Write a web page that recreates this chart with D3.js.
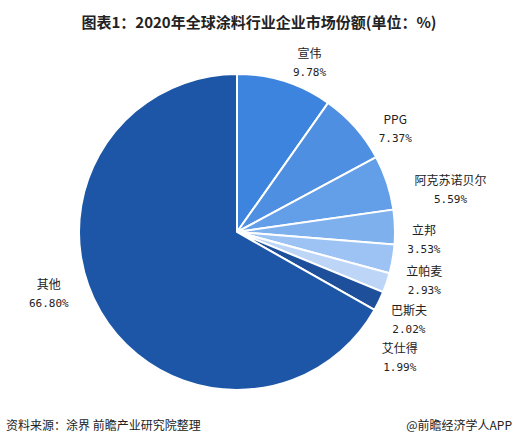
<!DOCTYPE html>
<html><head><meta charset="utf-8">
<script src="https://cdn.jsdelivr.net/npm/d3@7"></script>
<style>body{margin:0;background:#fff}text{font-family:"Noto Sans CJK SC","Noto Sans",sans-serif}</style>
</head><body><svg id="c" width="518" height="445"></svg>
<script>
const names = ["宣伟","PPG","阿克苏诺贝尔","立邦","立帕麦","巴斯夫","艾仕得","其他"];
const values = [9.78,7.37,5.59,3.53,2.93,2.02,1.99,66.80];
const colors = ["#3d84de","#4e8fe2","#639ee8","#7fb0ee","#9cc3f3","#bdd6f7","#1d4f9a","#1d56a6"];

const svg = d3.select("#c");
const cx = 237, cy = 232, r = 158;

svg.append("text").attr("x", 259).attr("y", 28).attr("text-anchor", "middle")
  .attr("font-size", 15).attr("font-weight", "bold").attr("fill", "#222")
  .text("图表1：2020年全球涂料行业企业市场份额(单位：%)");

const pie = d3.pie().sort(null).value(d => d)(values);
const arc = d3.arc().innerRadius(0).outerRadius(r);
const g = svg.append("g").attr("transform", `translate(${cx},${cy})`);
g.selectAll("path").data(pie).join("path")
  .attr("d", arc).attr("fill", (d, i) => colors[i])
  .attr("stroke", "#fff").attr("stroke-width", 2);

// label offsets per slice (dx, dy relative to polar position)
const adj = [[15,11],[16,22],[33,16],[-3,13],[0,16],[-8,26],[-8,42],[-24,-35]];
const lr = 190;
pie.forEach((d, i) => {
  const a = (d.startAngle + d.endAngle) / 2;
  let x = cx + Math.sin(a) * lr + adj[i][0], y = cy - Math.cos(a) * lr + adj[i][1];
  const t = svg.append("text").attr("text-anchor", "middle").attr("font-size", 12).attr("fill", "#222");
  t.append("tspan").attr("x", x).attr("y", y - 4).text(names[i]);
  t.append("tspan").attr("x", x).attr("y", y + 14).attr("font-family", "DejaVu Sans Mono, monospace").attr("font-size", 11)
    .text(values[i].toFixed(2) + "%");
});

svg.append("text").attr("x", 6).attr("y", 430).attr("font-size", 12).attr("fill", "#222")
  .text("资料来源：涂界 前瞻产业研究院整理");
svg.append("text").attr("x", 512).attr("y", 430).attr("text-anchor", "end").attr("font-size", 12).attr("fill", "#222")
  .text("@前瞻经济学人APP");
</script></body></html>
